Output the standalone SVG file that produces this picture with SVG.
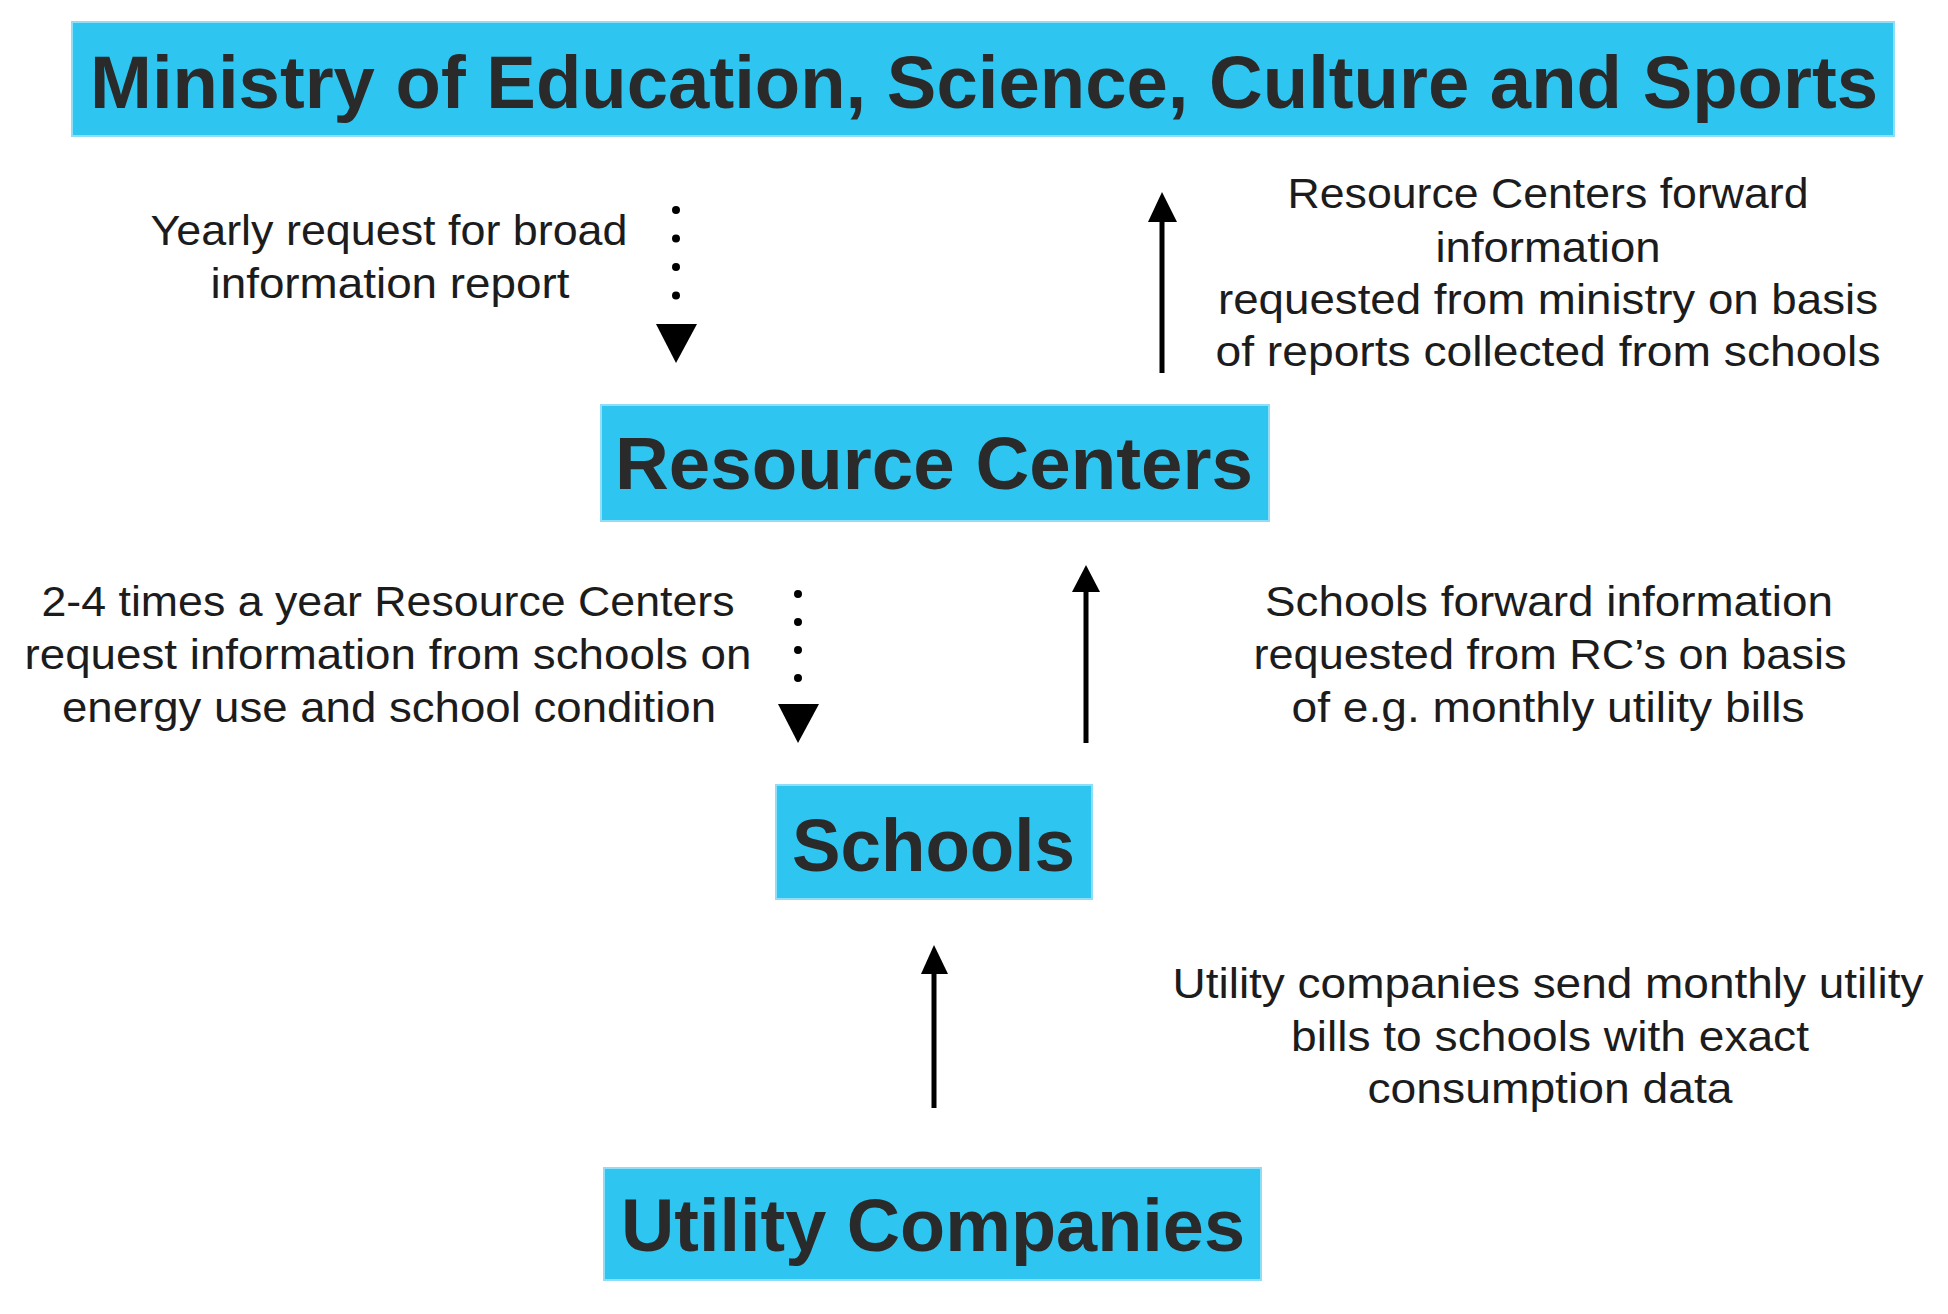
<svg xmlns="http://www.w3.org/2000/svg" width="1948" height="1314" viewBox="0 0 1948 1314">
<style>
.box{fill:#2EC5F0;stroke:#8FDDF6;stroke-width:2}
.title{font-family:"Liberation Sans",Arial,sans-serif;font-weight:bold;font-size:74px;fill:#2a2a2a;text-anchor:middle}
.lbl{font-family:"Liberation Sans",Arial,sans-serif;font-size:43px;fill:#1c1c1c;text-anchor:middle}
.solid{stroke:#000;stroke-width:5;fill:none}
.dots{stroke:#000;stroke-width:8;stroke-linecap:round;fill:none}
.head{fill:#000}
</style>
<rect width="1948" height="1314" fill="#fff"/>
<g id="ministry">
<rect class="box" x="72" y="22" width="1822" height="114"/>
<text class="title" x="984" y="108" textLength="1788" lengthAdjust="spacingAndGlyphs">Ministry of Education, Science, Culture and Sports</text>
</g>
<g id="resource-centers">
<rect class="box" x="601" y="405" width="668" height="116"/>
<text class="title" x="934" y="489" textLength="638" lengthAdjust="spacingAndGlyphs">Resource Centers</text>
</g>
<g id="schools">
<rect class="box" x="776" y="785" width="316" height="114"/>
<text class="title" x="933.5" y="871" textLength="283" lengthAdjust="spacingAndGlyphs">Schools</text>
</g>
<g id="utility-companies">
<rect class="box" x="604" y="1168" width="657" height="112"/>
<text class="title" x="933" y="1251" textLength="624" lengthAdjust="spacingAndGlyphs">Utility Companies</text>
</g>
<g id="connectors">
<path class="dots" d="M676 210 V296" stroke-dasharray="0 28.5"/>
<polygon class="head" points="656,324 697,324 676,363"/>
<path class="dots" d="M798 594 V679" stroke-dasharray="0 28"/>
<polygon class="head" points="778,704 819,704 798,743"/>
<line class="solid" x1="1162" y1="373" x2="1162" y2="218"/>
<polygon class="head" points="1148,222 1177,222 1162,192"/>
<line class="solid" x1="1086" y1="743" x2="1086" y2="588"/>
<polygon class="head" points="1072,592 1100,592 1086,565"/>
<line class="solid" x1="934" y1="1108" x2="934" y2="970"/>
<polygon class="head" points="921,974 948,974 934,945"/>
</g>
<g id="labels">
<text class="lbl" x="389" y="245" textLength="477" lengthAdjust="spacingAndGlyphs">Yearly request for broad</text>
<text class="lbl" x="390" y="298" textLength="359" lengthAdjust="spacingAndGlyphs">information report</text>
<text class="lbl" x="1548" y="208" textLength="521" lengthAdjust="spacingAndGlyphs">Resource Centers forward</text>
<text class="lbl" x="1548" y="262" textLength="225" lengthAdjust="spacingAndGlyphs">information</text>
<text class="lbl" x="1548" y="314" textLength="660" lengthAdjust="spacingAndGlyphs">requested from ministry on basis</text>
<text class="lbl" x="1548" y="366" textLength="665" lengthAdjust="spacingAndGlyphs">of reports collected from schools</text>
<text class="lbl" x="388" y="616" textLength="693" lengthAdjust="spacingAndGlyphs">2-4 times a year Resource Centers</text>
<text class="lbl" x="388" y="669" textLength="727" lengthAdjust="spacingAndGlyphs">request information from schools on</text>
<text class="lbl" x="389" y="722" textLength="654" lengthAdjust="spacingAndGlyphs">energy use and school condition</text>
<text class="lbl" x="1549" y="616" textLength="568" lengthAdjust="spacingAndGlyphs">Schools forward information</text>
<text class="lbl" x="1550" y="669" textLength="593" lengthAdjust="spacingAndGlyphs">requested from RC’s on basis</text>
<text class="lbl" x="1548" y="722" textLength="513" lengthAdjust="spacingAndGlyphs">of e.g. monthly utility bills</text>
<text class="lbl" x="1548" y="998" textLength="751" lengthAdjust="spacingAndGlyphs">Utility companies send monthly utility</text>
<text class="lbl" x="1550" y="1051" textLength="518" lengthAdjust="spacingAndGlyphs">bills to schools with exact</text>
<text class="lbl" x="1550" y="1103" textLength="365" lengthAdjust="spacingAndGlyphs">consumption data</text>
</g>
</svg>
